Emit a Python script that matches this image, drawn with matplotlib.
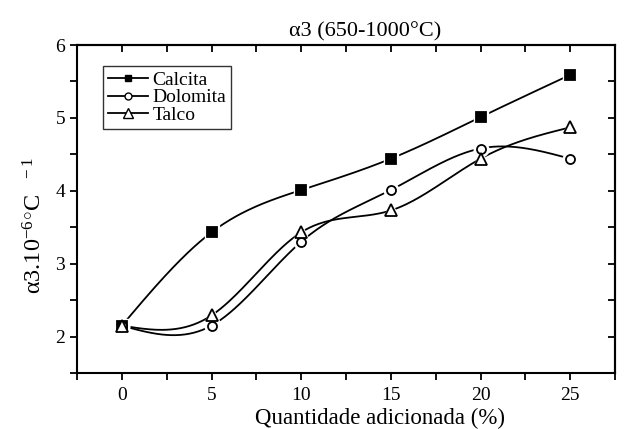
import numpy as np
import matplotlib
matplotlib.use("Agg")
import matplotlib.pyplot as plt
from matplotlib.lines import Line2D
from matplotlib.ticker import MultipleLocator

plt.rcParams['font.family'] = ['Liberation Serif', 'DejaVu Serif']
plt.rcParams['mathtext.fontset'] = 'custom'
plt.rcParams['mathtext.rm'] = 'Liberation Serif'
plt.rcParams['mathtext.it'] = 'Liberation Serif'

quantidade = [0, 5, 10, 15, 20, 25]
calcita = [2.15, 3.43, 4.01, 4.44, 5.01, 5.59]
dolomita = [2.15, 2.15, 3.30, 4.01, 4.58, 4.44]
talco = [2.15, 2.29, 3.43, 3.73, 4.44, 4.87]
series_names = ['Calcita', 'Dolomita', 'Talco']


def natural_spline(x, y, n=300):
    x = np.asarray(x, float)
    y = np.asarray(y, float)
    m = len(x)
    h = np.diff(x)
    A = np.zeros((m, m))
    b = np.zeros(m)
    A[0, 0] = 1
    A[-1, -1] = 1
    for i in range(1, m - 1):
        A[i, i - 1] = h[i - 1]
        A[i, i] = 2 * (h[i - 1] + h[i])
        A[i, i + 1] = h[i]
        b[i] = 3 * ((y[i + 1] - y[i]) / h[i] - (y[i] - y[i - 1]) / h[i - 1])
    c = np.linalg.solve(A, b)
    xs = np.linspace(x[0], x[-1], n)
    ys = np.empty_like(xs)
    for k, xv in enumerate(xs):
        i = min(np.searchsorted(x, xv, side='right') - 1, m - 2)
        dx = xv - x[i]
        bb = (y[i + 1] - y[i]) / h[i] - h[i] * (2 * c[i] + c[i + 1]) / 3
        d = (c[i + 1] - c[i]) / (3 * h[i])
        ys[k] = y[i] + bb * dx + c[i] * dx ** 2 + d * dx ** 3
    return xs, ys


fig = plt.figure(figsize=(6.29, 4.29), dpi=100)
ax = fig.add_axes([77 / 629, 1 - 373 / 429, (615 - 77) / 629, (373 - 45) / 429])

styles = [
    dict(marker='s', mfc='black', ms=6.5),
    dict(marker='o', mfc='white', ms=6.5),
    dict(marker='^', mfc='white', ms=8),
]
handles = []
for name, vals, st in zip(series_names, [calcita, dolomita, talco], styles):
    xs, ys = natural_spline(quantidade, vals)
    ax.plot(xs, ys, color='black', lw=1.3, zorder=2)
    ax.plot(quantidade, vals, linestyle='none', marker=st['marker'], ms=st['ms'] + 4,
            mfc='white', mec='white', zorder=3)
    ax.plot(quantidade, vals, linestyle='none', marker=st['marker'], ms=st['ms'],
            mfc=st['mfc'], mec='black', mew=1.3, zorder=4)
    handles.append(Line2D([], [], color='black', lw=1.3, marker=st['marker'], ms=st['ms'] - 1.5,
                          mfc=st['mfc'], mec='black', mew=1.0))

ax.set_xlim(-2.5, 27.5)
ax.set_ylim(1.5, 6)
ax.xaxis.set_major_locator(MultipleLocator(5))
ax.xaxis.set_minor_locator(MultipleLocator(2.5))
ax.yaxis.set_major_locator(MultipleLocator(1))
ax.yaxis.set_minor_locator(MultipleLocator(0.5))
ax.tick_params(which='both', direction='out', length=5, width=1.3, labelsize=14, colors='black')
ax.tick_params(axis='x', pad=5)
for s in ax.spines.values():
    s.set_linewidth(1.5)

top = ax.secondary_xaxis('top')
top.xaxis.set_major_locator(MultipleLocator(2.5))
top.tick_params(which='both', direction='in', length=5, width=1.3, labeltop=False)
right = ax.secondary_yaxis('right')
right.yaxis.set_major_locator(MultipleLocator(0.5))
right.tick_params(which='both', direction='in', length=5, width=1.3, labelright=False)
for sa in (top, right):
    for s in sa.spines.values():
        s.set_linewidth(1.5)

ax.set_title('α3 (650-1000°C)', fontsize=16, pad=6, x=0.535)
ax.set_xlabel('Quantidade adicionada (%)', fontsize=16.5, labelpad=3, x=0.563)
ax.set_ylabel(r'$\alpha3.10^{-6}{}^{\circ}\mathrm{C}^{\quad -1}$', fontsize=17.5, labelpad=6, y=0.45)

leg = ax.legend(handles, series_names, loc='upper left', bbox_to_anchor=(0.048, 0.935),
                fontsize=14, frameon=True, fancybox=False, edgecolor='black',
                handlelength=2.05, handletextpad=0.25, borderpad=0.25, labelspacing=0.0,
                borderaxespad=0)
leg.get_frame().set_linewidth(1.0)

fig.savefig('out.png', dpi=100)
